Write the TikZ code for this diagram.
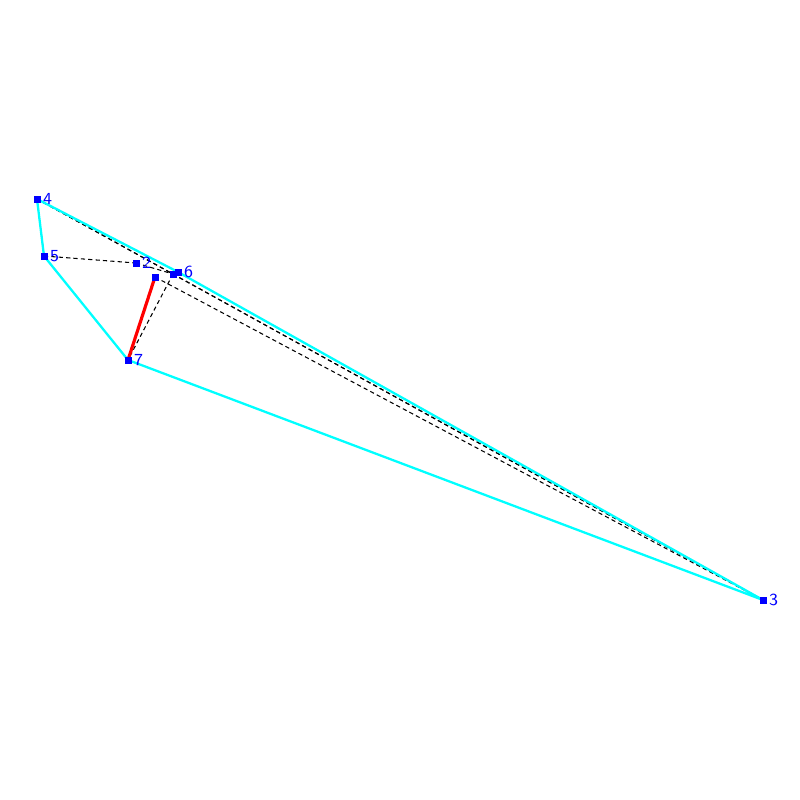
\documentclass[tikz,border=0pt]{standalone}
\usepackage{tikz}
\usetikzlibrary{positioning, calc}
\definecolor{HullCyan}{HTML}{00FFFF}
\definecolor{PtBlue}{HTML}{0000FF}
\definecolor{EdgeRed}{HTML}{FF0000}

\begin{document}
\begin{tikzpicture}[
    x=0.01cm, y=-0.01cm,
    pt/.style={rectangle, inner sep=0pt, minimum size=0.08cm},
    lbl/.style={font=\sffamily\fontsize{4.8}{4.8}\selectfont, text=PtBlue, inner sep=0.2pt, anchor=west},
    hull/.style={HullCyan, line width=0.65pt},
    tri/.style={black, line width=0.3pt, dash pattern=on 1.2pt off 0.9pt}
]
\useasboundingbox (0, 0) rectangle (800, 800);

\node[pt] (p0) at (155, 277) {};
\node[pt] (p1) at (173, 274) {};
\node[pt] (p2) at (136, 263) {};
\node[pt] (p3) at (763, 600) {};
\node[pt] (p4) at (37, 199) {};
\node[pt] (p5) at (44, 256) {};
\node[pt] (p6) at (178, 272) {};
\node[pt] (p7) at (128, 360) {};

% Triangulation edges
\draw[tri] (p4.center) -- (p5.center);
\draw[tri] (p5.center) -- (p2.center);
\draw[tri] (p2.center) -- (p1.center);
\draw[tri] (p4.center) -- (p1.center);
\draw[tri] (p1.center) -- (p3.center);
\draw[tri] (p0.center) -- (p3.center);
\draw[tri] (p1.center) -- (p7.center);
\draw[tri] (p4.center) -- (p3.center);

% Hull
\draw[hull] (p4.center) -- (p6.center) -- (p3.center) -- (p7.center) -- (p5.center) -- cycle;

% Current edge
\draw[EdgeRed, line width=0.9pt] (p7.center) -- (p0.center);

% Points on top
\foreach \p in {p0, p1, p2, p3, p4, p5, p6, p7}
    \fill[PtBlue] ($(\p)+(-3.5,-3.5)$) rectangle ($(\p)+(3.5,3.5)$);

\node[lbl] at (p2.east) {2};
\node[lbl] at (p3.east) {3};
\node[lbl] at (p4.east) {4};
\node[lbl] at (p5.east) {5};
\node[lbl] at (p6.east) {6};
\node[lbl] at (p7.east) {7};
\end{tikzpicture}
\end{document}
